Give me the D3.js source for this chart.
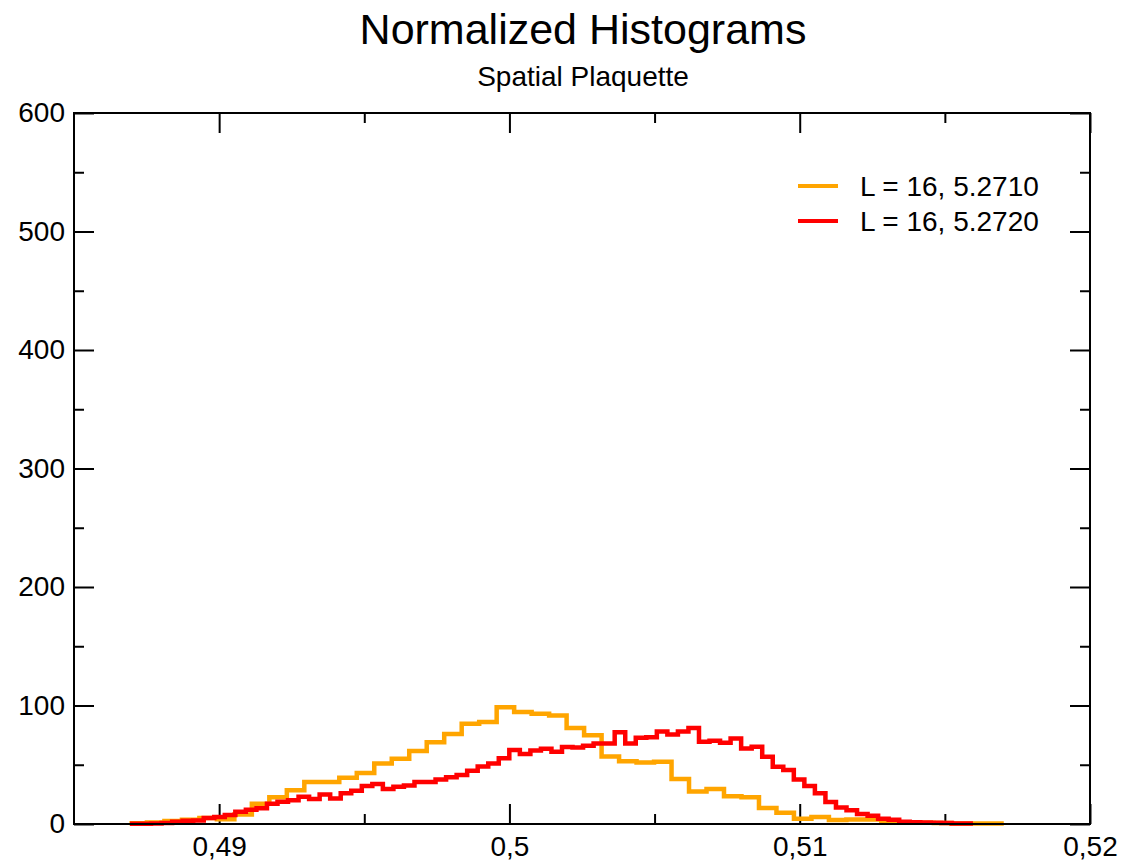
<!DOCTYPE html>
<html><head><meta charset="utf-8">
<script src="https://cdn.jsdelivr.net/npm/d3@7"></script>
<style>
body{margin:0;background:#fff;}
text{font-family:"Liberation Sans",Arial,Helvetica,sans-serif;fill:#000;}
</style>
</head><body>
<svg id="c" width="1124" height="862"></svg>
<script>
// ---------- data ----------
const seriesNames = ["L = 16, 5.2710", "L = 16, 5.2720"];
const seriesColors = ["#FFA500", "#FF0000"];

const orangeBinStart = 0.48691;
const orangeBinWidth = 0.0006024;
const orangeValues = [0.7, 1.2, 2.5, 3.5, 5, 4, 8, 17, 22.5, 28.5,
  35.5, 35.5, 39, 43, 51, 55, 61.5, 69, 76, 84.5,
  86, 98.5, 94.5, 93, 91.5, 81, 75, 57, 53, 52,
  52.5, 38, 27.5, 29.5, 23.5, 22.5, 13.5, 9.5, 4.5, 6,
  3.3, 3.8, 3.8, 2, 1.5, 1, 0.8, 0.5, 0.5, 0.5];

const redBinStart = 0.486928;
const redBinWidth = 0.000363;
const redValues = [0.3, 0.3, 0.5, 0.8, 2, 2.8, 3, 5, 6, 7.6,
  10.4, 12, 13.2, 17, 18.8, 20, 23, 21, 25, 21.5,
  26, 28, 32, 33.7, 29.5, 31.5, 32.5, 35.5, 35.5, 37.5,
  39.5, 41.3, 45, 48.5, 51, 55.4, 62.4, 59, 62, 63.5,
  61, 65, 64.5, 66, 68, 68, 77.5, 68, 72.7, 73.3,
  78, 75.5, 78, 81, 69.4, 70.2, 68.5, 72.2, 63.8, 65.2,
  56.7, 48.3, 45.5, 37.6, 32, 26, 18.5, 14, 11.5, 8.5,
  7, 4.5, 3.5, 2, 1.5, 1.2, 1, 0.8, 0.5, 0.4];

const xDomain = [0.485, 0.52];
const yDomain = [0, 600];
const xTickValues = [0.49, 0.5, 0.51, 0.52];
const xTickLabels = ["0,49", "0,5", "0,51", "0,52"];
const xMinorTicks = [0.495, 0.505, 0.515];
const yTickValues = [0, 100, 200, 300, 400, 500, 600];
const yMinorTicks = [50, 150, 250, 350, 450, 550];
const titleText = "Normalized Histograms";
const subtitleText = "Spatial Plaquette";

// ---------- layout ----------
const svg = d3.select("#c");
svg.append("rect").attr("width", 1124).attr("height", 862).attr("fill", "#fff");
const L = 74, R = 1090, T = 113, B = 824;
const x = d3.scaleLinear().domain(xDomain).range([L, R]);
const y = d3.scaleLinear().domain(yDomain).range([B, T]);

// title
svg.append("text").attr("x", 583).attr("y", 44).attr("text-anchor", "middle")
  .style("font-size", "43px").text(titleText);
svg.append("text").attr("x", 583).attr("y", 86).attr("text-anchor", "middle")
  .style("font-size", "28px").text(subtitleText);

function styleAxis(g) {
  g.select(".domain").remove();
  g.selectAll(".tick line").attr("stroke", "#000").attr("stroke-width", 2);
  g.selectAll(".tick text").style("font-size", "28px").attr("fill", "#000")
    .style("font-family", '"Liberation Sans",Arial,sans-serif');
}

// major ticks
svg.append("g").attr("transform", `translate(0,${B})`)
  .call(d3.axisBottom(x).tickValues(xTickValues).tickSize(-20).tickPadding(12)
    .tickFormat((d, i) => xTickLabels[i])).call(styleAxis);
svg.append("g").attr("transform", `translate(0,${T})`)
  .call(d3.axisTop(x).tickValues(xTickValues).tickSize(-20).tickFormat("")).call(styleAxis);
svg.append("g").attr("transform", `translate(${L},0)`)
  .call(d3.axisLeft(y).tickValues(yTickValues).tickSize(-20).tickPadding(9)
    .tickFormat(d3.format("d"))).call(styleAxis);
svg.append("g").attr("transform", `translate(${R},0)`)
  .call(d3.axisRight(y).tickValues(yTickValues).tickSize(-20).tickFormat("")).call(styleAxis);

// minor ticks
svg.append("g").attr("transform", `translate(0,${B})`)
  .call(d3.axisBottom(x).tickValues(xMinorTicks).tickSize(-10).tickFormat("")).call(styleAxis);
svg.append("g").attr("transform", `translate(0,${T})`)
  .call(d3.axisTop(x).tickValues(xMinorTicks).tickSize(-10).tickFormat("")).call(styleAxis);
svg.append("g").attr("transform", `translate(${L},0)`)
  .call(d3.axisLeft(y).tickValues(yMinorTicks).tickSize(-10).tickFormat("")).call(styleAxis);
svg.append("g").attr("transform", `translate(${R},0)`)
  .call(d3.axisRight(y).tickValues(yMinorTicks).tickSize(-10).tickFormat("")).call(styleAxis);

// histograms
const line = d3.line().x(d => x(d[0])).y(d => y(d[1])).curve(d3.curveStepAfter);
function stepPoints(start, width, vals) {
  const pts = vals.map((v, i) => [start + i * width, v]);
  pts.push([start + vals.length * width, vals[vals.length - 1]]);
  return pts;
}
const series = [
  {pts: stepPoints(orangeBinStart, orangeBinWidth, orangeValues), color: seriesColors[0]},
  {pts: stepPoints(redBinStart, redBinWidth, redValues), color: seriesColors[1]}
];
series.forEach(s => {
  svg.append("path").attr("d", line(s.pts)).attr("fill", "none")
    .attr("stroke", s.color).attr("stroke-width", 4.5).attr("stroke-linejoin", "miter");
});

// frame
svg.append("rect").attr("x", L).attr("y", T).attr("width", R - L).attr("height", B - T)
  .attr("fill", "none").attr("stroke", "#000").attr("stroke-width", 2);

// legend
const leg = svg.append("g");
seriesNames.forEach((name, i) => {
  const ly = 186 + i * 35;
  leg.append("line").attr("x1", 798).attr("x2", 838).attr("y1", ly).attr("y2", ly)
    .attr("stroke", seriesColors[i]).attr("stroke-width", 4);
  leg.append("text").attr("x", 860).attr("y", ly + 10).style("font-size", "28px").text(name);
});
</script>
</body></html>
